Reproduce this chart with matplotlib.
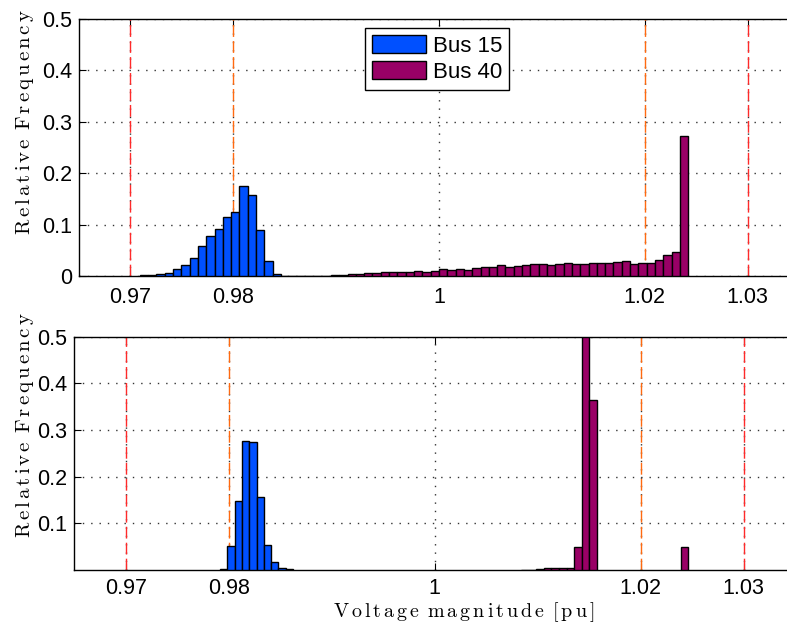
import numpy as np
import matplotlib
matplotlib.use("Agg")
import matplotlib.pyplot as plt
from matplotlib.patches import Patch

# histogram bins (relative frequency)
TOP_START = 0.9709
TOP_W = 0.000808
bus15_top_first = 0
bus15_top = [0.0013, 0.0026, 0.0045, 0.0065, 0.0143, 0.022, 0.0357, 0.0577, 0.0785,
             0.0914, 0.114, 0.1245, 0.1745, 0.158, 0.090, 0.029, 0.0045, 0.0006, 0.0003]
bus40_top_first = 19
bus40_top = [0.0004, 0.0006, 0.0006, 0.0008, 0.002, 0.0026, 0.0032, 0.0045, 0.0052, 0.0058,
             0.007, 0.007, 0.007, 0.0085, 0.0091, 0.007, 0.0097, 0.014, 0.012, 0.0136,
             0.012, 0.016, 0.018, 0.017, 0.022, 0.018, 0.020, 0.021, 0.023, 0.023,
             0.021, 0.023, 0.025, 0.023, 0.023, 0.025, 0.025, 0.025, 0.027, 0.0285,
             0.023, 0.025, 0.026, 0.032, 0.0415, 0.047, 0.273]

BOT15_START = 0.97916
BOT15_W = 0.000707
bus15_bot = [0.003, 0.051, 0.148, 0.276, 0.274, 0.156, 0.054, 0.017, 0.004, 0.0015]
BOT40_START = 1.008358
BOT40_W = 0.00074
bus40_bot = [0.0007, 0.001, 0.002, 0.0043, 0.0043, 0.0036, 0.005, 0.049, 0.5, 0.364,
             0, 0, 0, 0, 0, 0, 0, 0, 0, 0, 0, 0.049]

xticks = [0.97, 0.98, 1.0, 1.02, 1.03]
xticklabels = ["0.97", "0.98", "1", "1.02", "1.03"]
limits_outer = [0.97, 1.03]
limits_inner = [0.98, 1.02]

BLUE = "#0050ff"
PURPLE = "#990066"
RED = "#ff2a2a"
ORANGE = "#ff6a10"

plt.rcParams['font.family'] = ['Liberation Sans', 'DejaVu Sans']
plt.rcParams['mathtext.fontset'] = 'cm'


def spaced(text):
    # LaTeX-looking label with a little letter spacing
    words = [r'\,'.join(w) for w in text.split(' ')]
    return '$\\mathrm{' + r'\ \,'.join(words) + '}$'


def bars(ax, start, w, first, heights, color):
    h = np.array(heights, dtype=float)
    lefts = start + (first + np.arange(len(h))) * w
    keep = h > 0
    ax.bar(lefts[keep], h[keep], width=w, align='edge', color=color,
           edgecolor='black', linewidth=1.0, zorder=3)


def style(ax, yticks, label_xy, xpad):
    ax.set_xlim(0.965, 1.035)
    ax.set_ylim(0, 0.5)
    ax.set_xticks(xticks)
    ax.set_xticklabels(xticklabels)
    ax.set_yticks(yticks)
    ax.set_yticklabels([f"{v:g}" for v in yticks])
    ax.tick_params(direction='in', length=5, width=0.8, labelsize=15.5,
                   top=True, right=True, color='black')
    ax.tick_params(axis='x', pad=xpad)
    ax.tick_params(axis='y', pad=5)
    ax.grid(True, color='0.2', linestyle=(0, (1, 5)), linewidth=1.0, zorder=0)
    for v in limits_outer:
        ax.axvline(v, color=RED, linestyle=(0, (8.5, 3)), linewidth=1.0, zorder=2)
    for v in limits_inner:
        ax.axvline(v, color=ORANGE, linestyle=(0, (8.5, 3)), linewidth=1.0, zorder=2)
    for s in ax.spines.values():
        s.set_linewidth(1.0)
    ax.set_ylabel(spaced("Relative Frequency"), fontsize=15)
    ax.yaxis.set_label_coords(*label_xy)


fig = plt.figure(figsize=(7.87, 6.30), dpi=100)
ax1 = fig.add_axes([0.1004, 0.5619, 0.915, 0.4079])
ax2 = fig.add_axes([0.0944, 0.0952, 0.916, 0.3703])

bars(ax1, TOP_START, TOP_W, bus15_top_first, bus15_top, BLUE)
bars(ax1, TOP_START, TOP_W, bus40_top_first, bus40_top, PURPLE)
style(ax1, [0, 0.1, 0.2, 0.3, 0.4, 0.5], (-0.06, 0.60), 8)

bars(ax2, BOT15_START, BOT15_W, 0, bus15_bot, BLUE)
bars(ax2, BOT40_START, BOT40_W, 0, bus40_bot, PURPLE)
style(ax2, [0.1, 0.2, 0.3, 0.4, 0.5], (-0.053, 0.62), 6)
ax2.set_xlabel(spaced("Voltage magnitude [pu]"), fontsize=14.5)
ax2.xaxis.set_label_coords(0.54, -0.13)

handles = [Patch(facecolor=BLUE, edgecolor='black', linewidth=1.0, label="Bus 15"),
           Patch(facecolor=PURPLE, edgecolor='black', linewidth=1.0, label="Bus 40")]
leg = ax1.legend(handles=handles, loc='upper left', bbox_to_anchor=(0.397, 0.965),
                 fontsize=16, fancybox=False, framealpha=1, edgecolor='black',
                 handlelength=2.45, handleheight=0.9, handletextpad=0.3,
                 labelspacing=0.2, borderpad=0.3, borderaxespad=0)
leg.get_frame().set_linewidth(1.0)
leg.set_zorder(5)

fig.savefig("out.png", dpi=100)
